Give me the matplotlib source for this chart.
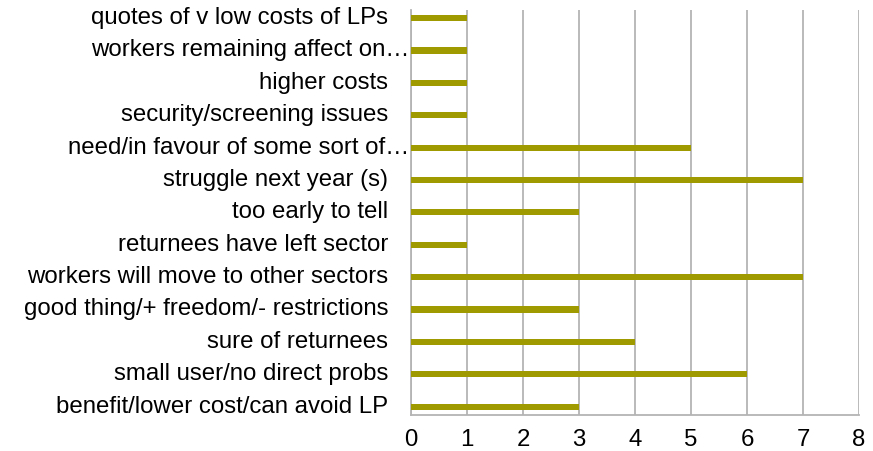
import matplotlib
matplotlib.use("Agg")
import matplotlib.pyplot as plt
import matplotlib.transforms as mtransforms

categories = [
    "quotes of v low costs of LPs",
    "workers remaining affect on…",
    "higher costs",
    "security/screening issues",
    "need/in favour of some sort of…",
    "struggle next year (s)",
    "too early to tell",
    "returnees have left sector",
    "workers will move to other sectors",
    "good thing/+ freedom/- restrictions",
    "sure of returnees",
    "small user/no direct probs",
    "benefit/lower cost/can avoid LP",
]
values = [1, 1, 1, 1, 5, 7, 3, 1, 7, 3, 4, 6, 3]
truncated = [False, True, False, False, True, False, False, False, False, False, False, False, False]
xticks = [0, 1, 2, 3, 4, 5, 6, 7, 8]

plt.rcParams['font.family'] = ['Liberation Sans', 'DejaVu Sans']
FS = 17.3

fig = plt.figure(figsize=(8.73, 4.51), dpi=100)
ax = fig.add_axes([411/873, 1 - 414.7/451, (859-411)/873, (414.7-10)/451])

bar_color = '#9e9a00'
ypos = list(range(len(categories)))
ax.barh(ypos, values, height=0.19, color=bar_color, zorder=3)

ax.set_xlim(0, 8)
ax.set_ylim(12.25, -0.25)
ax.set_xticks(xticks)
ax.set_xticklabels([str(t) for t in xticks], fontsize=FS)
ax.set_yticks([])
ax.tick_params(axis='x', length=0, pad=10.5)

ax.grid(axis='x', color='#b4b4b4', linewidth=1.3, zorder=0)
for s in ['top', 'right']:
    ax.spines[s].set_visible(False)
ax.spines['left'].set_color('#b4b4b4')
ax.spines['left'].set_linewidth(1.3)
ax.spines['bottom'].set_color('#b4b4b4')
ax.spines['bottom'].set_linewidth(1.3)

trans = mtransforms.blended_transform_factory(ax.transAxes, ax.transData)
for y, lab, tr in zip(ypos, categories, truncated):
    off = 2 if tr else 23
    t = trans + mtransforms.ScaledTranslation(-off / 100, 0, fig.dpi_scale_trans)
    ax.text(0, y, lab, transform=t, ha='right', va='center', fontsize=FS, color='#000000')

fig.savefig('out.png', dpi=100)
